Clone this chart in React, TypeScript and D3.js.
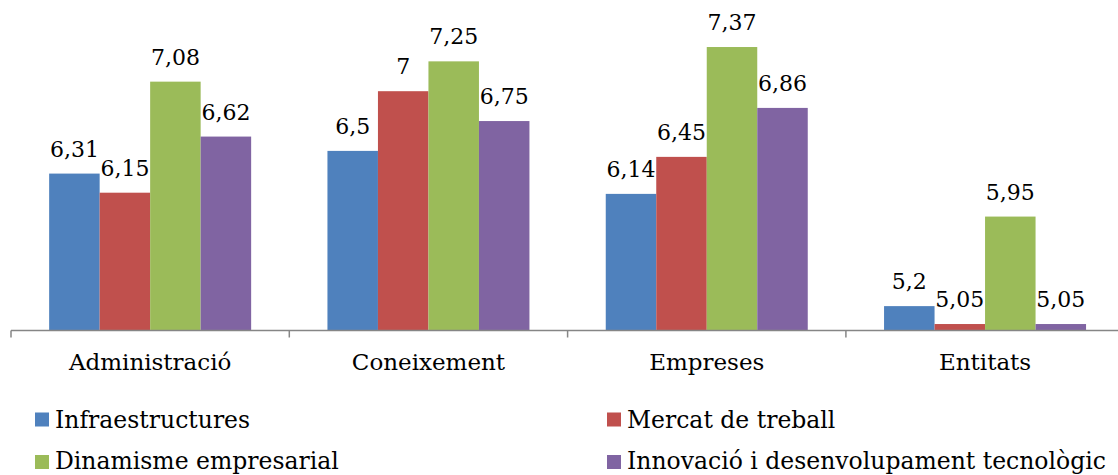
import React from "react";
import * as d3 from "d3";

const categories = ["Administració", "Coneixement", "Empreses", "Entitats"];
const seriesNames = [
  "Infraestructures",
  "Mercat de treball",
  "Dinamisme empresarial",
  "Innovació i desenvolupament tecnològic",
];
const infraestructures = [6.31, 6.5, 6.14, 5.2];
const mercatTreball = [6.15, 7, 6.45, 5.05];
const dinamisme = [7.08, 7.25, 7.37, 5.95];
const innovacio = [6.62, 6.75, 6.86, 5.05];
const colors = ["#4F81BD", "#C0504D", "#9BBB59", "#8064A2"];

const seriesValues = [infraestructures, mercatTreball, dinamisme, innovacio];

const W = 1118;
const H = 475;
const FONT = "'DejaVu Serif', Georgia, serif";

const fmt = (v: number) => String(v).replace(".", ",");

export default function App() {
  const catStep = 278.3;
  const x0 = d3
    .scaleBand<string>()
    .domain(categories)
    .range([11, 11 + catStep * categories.length])
    .padding(0);
  const groupW = 202;
  const x1 = d3
    .scaleBand<string>()
    .domain(seriesNames)
    .range([(x0.bandwidth() - groupW) / 2, (x0.bandwidth() + groupW) / 2])
    .padding(0);
  const y = d3.scaleLinear().domain([5, 7.5]).range([330, 330 - 2.5 * 119.4]);

  const axisY = 330.5;
  const tickXs = categories.map((c) => x0(c)!);

  // legend rows: marker top and text baseline
  const legendRows = [
    { top: 412.5, base: 428 },
    { top: 455, base: 469 },
  ];

  return (
    <svg
      width={W}
      height={H}
      style={{ position: "absolute", left: 0, top: 0, background: "#fff" }}
      fontFamily={FONT}
    >
      {categories.map((c, ci) => (
        <g key={c} transform={`translate(${x0(c)},0)`}>
          {seriesNames.map((s, si) => {
            const v = seriesValues[si][ci];
            const bx = x1(s)!;
            const bw = x1.bandwidth();
            return (
              <g key={s}>
                <rect
                  x={bx}
                  y={y(v)}
                  width={bw}
                  height={y(5) - y(v)}
                  fill={colors[si]}
                />
                <text
                  x={bx + bw / 2}
                  y={y(v) - 17}
                  textAnchor="middle"
                  fontSize={22}
                  fill="#000"
                >
                  {fmt(v)}
                </text>
              </g>
            );
          })}
          <text
            x={x0.bandwidth() / 2}
            y={370}
            textAnchor="middle"
            fontSize={23}
            fill="#000"
          >
            {c}
          </text>
        </g>
      ))}
      <line x1={11} x2={W} y1={axisY} y2={axisY} stroke="#868686" strokeWidth={1.5} />
      {tickXs.map((tx, i) => (
        <line
          key={i}
          x1={tx}
          x2={tx}
          y1={axisY}
          y2={axisY + 7}
          stroke="#868686"
          strokeWidth={1.5}
        />
      ))}
      {seriesNames.map((s, i) => {
        const lx = i % 2 === 0 ? 35 : 607;
        const row = legendRows[i < 2 ? 0 : 1];
        return (
          <g key={s}>
            <rect x={lx} y={row.top} width={14} height={14} fill={colors[i]} />
            <text x={lx + 20} y={row.base} fontSize={23.5} fill="#000">
              {s}
            </text>
          </g>
        );
      })}
    </svg>
  );
}
